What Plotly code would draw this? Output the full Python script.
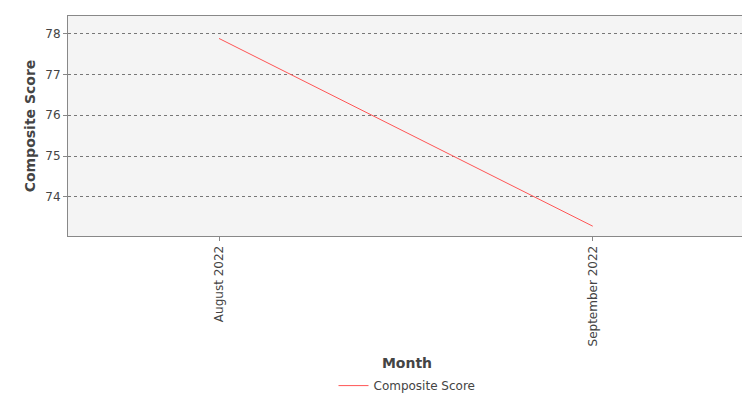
import plotly.graph_objects as go

months = ["August 2022", "September 2022"]
scores = [77.88, 73.28]

fig = go.Figure(go.Scatter(x=months, y=scores, mode="lines", name="Composite Score",
                           line=dict(color="#ff5555", width=1)))
fig.update_layout(
    width=750, height=400, margin=dict(l=60, r=12, t=8, b=167),
    paper_bgcolor="white", plot_bgcolor="#f4f4f4",
    font=dict(family="DejaVu Sans", size=12, color="#444"),
    showlegend=True,
    legend=dict(orientation="h", x=0.5, xanchor="center", y=-0.68, yanchor="middle",
                font=dict(size=12), itemwidth=30),
)
fig.update_xaxes(type="category", range=[-0.404, 1.41], showgrid=False, automargin=False,
                 tickangle=-90, ticks="outside", ticklen=4, tickcolor="#888",
                 showline=True, linecolor="#888", mirror=True,
                 title=dict(text="<b>Month</b>", font=dict(size=14, color="#444"), standoff=12),
                 tickfont=dict(size=12))
fig.update_yaxes(range=[73.04, 78.43], tickvals=[74, 75, 76, 77, 78], automargin=False,
                 showgrid=True, gridcolor="#777", griddash="dot", gridwidth=1,
                 ticks="outside", ticklen=4, tickcolor="#888",
                 showline=True, linecolor="#888", mirror=True, zeroline=False,
                 title=dict(text="<b>Composite Score</b>", font=dict(size=14, color="#444"), standoff=6),
                 tickfont=dict(size=12))
fig.write_html("out.html")
